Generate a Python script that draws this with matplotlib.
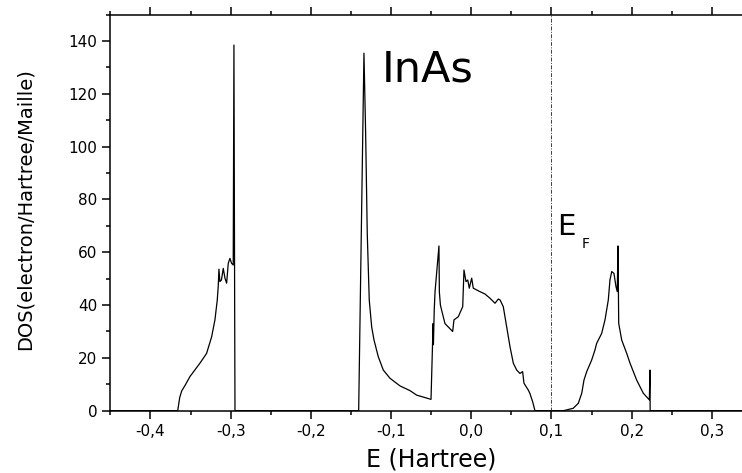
import matplotlib
matplotlib.use("Agg")
import matplotlib.pyplot as plt
from matplotlib.ticker import MultipleLocator

# density of states (E in Hartree, DOS in electron/Hartree/Maille)
energy = [
    -0.45, -0.366, -0.3635, -0.361, -0.357, -0.3508, -0.3383, -0.330, -0.3237,
    -0.3196, -0.3167, -0.3155, -0.3146, -0.3134, -0.3115, -0.3092, -0.3071,
    -0.305, -0.303, -0.3009, -0.2988, -0.2968, -0.2959, -0.2950, -0.2946,
    -0.1404, -0.1338, -0.1317, -0.1297, -0.1272, -0.1242, -0.1213, -0.116,
    -0.1097, -0.1014, -0.0889, -0.0764, -0.0681, -0.0502, -0.0476, -0.0472,
    -0.0462, -0.0452, -0.0403, -0.0398, -0.0385, -0.0369, -0.0328, -0.0232,
    -0.0216, -0.0162, -0.0107, -0.0091, -0.0066, -0.0044, -0.0025, 0.0005,
    0.0025, 0.0108, 0.0171, 0.0233, 0.0296, 0.0337, 0.036, 0.0399, 0.0441,
    0.0483, 0.0524, 0.0566, 0.0607, 0.064, 0.0657, 0.0711, 0.073, 0.0765,
    0.0794, 0.1147, 0.127, 0.1334, 0.1377, 0.1405, 0.1439, 0.1501, 0.1542,
    0.1563, 0.1626, 0.1667, 0.1708, 0.1729, 0.1751, 0.1779, 0.1804, 0.182,
    0.1829, 0.1838, 0.1875, 0.1938, 0.1979, 0.2062, 0.2145, 0.222, 0.2228,
    0.2230, 0.2232, 0.35,
]
dos = [
    0, 0, 5.0, 7.5, 9.5, 12.9, 18.0, 21.7, 28.0,
    34.4, 41.9, 47.0, 53.6, 48.9, 49.5, 53.9, 50.2,
    48.3, 55.8, 57.7, 55.8, 55.2, 138.5, 40.0, 0,
    0, 135.4, 105.0, 67.2, 41.9, 31.8, 26.8, 20.5,
    15.4, 12.3, 9.4, 7.6, 5.9, 4.3, 33.0, 25.0,
    38.0, 45.0, 62.4, 45.0, 40.0, 38.0, 33.0, 30.0,
    34.4, 35.6, 39.4, 53.3, 48.9, 49.5, 46.4, 50.2,
    46.4, 45.1, 44.2, 42.6, 40.7, 42.3, 41.9, 39.4, 31.8,
    24.2, 18.0, 15.4, 14.1, 14.8, 10.4, 7.8, 6.6, 3.4,
    0, 0, 0.9, 2.8, 6.6, 11.6, 14.8, 19.2, 23.0,
    25.5, 29.3, 34.4, 41.9, 49.5, 52.7, 52.0, 47.0, 45.1,
    62.4, 33.1, 26.8, 21.7, 18.0, 11.6, 6.6, 4.1, 15.4,
    0, 0, 0,
]

fermi_energy = 0.1
xtick_values = [-0.4, -0.3, -0.2, -0.1, 0.0, 0.1, 0.2, 0.3]
xtick_labels = ["-0,4", "-0,3", "-0,2", "-0,1", "0,0", "0,1", "0,2", "0,3"]
ytick_values = [0, 20, 40, 60, 80, 100, 120, 140]

fig = plt.figure(figsize=(7.42, 4.73), dpi=100)
# the reference is cropped on the right, so the axes run past the figure edge
ax = fig.add_axes([0.1487, 0.1317, 0.8648, 0.8373])

ax.plot(energy, dos, color="black", lw=0.9)
ax.axvline(fermi_energy, color="0.25", lw=0.7, ls=(0, (4, 1.5, 1, 1.5)))

ax.set_xlim(-0.45, 0.35)
ax.set_ylim(0, 150)
ax.set_xticks(xtick_values)
ax.set_xticklabels(xtick_labels)
ax.set_yticks(ytick_values)
ax.xaxis.set_minor_locator(MultipleLocator(0.05))
ax.yaxis.set_minor_locator(MultipleLocator(10))

ax.tick_params(which="both", direction="out", top=True, right=False,
               width=1.1, labelsize=11, colors="black")
ax.tick_params(which="major", length=5.5, pad=4)
ax.tick_params(which="minor", length=2.6)
for s in ax.spines.values():
    s.set_linewidth(1.1)

ax.set_xlabel("E (Hartree)", fontsize=17, labelpad=6)
ax.set_ylabel("DOS(electron/Hartree/Maille)", fontsize=14, labelpad=22)
ax.yaxis.set_label_coords(-0.118, 0.51)

ax.text(-0.1117, 124.6, "InAs", fontsize=31, ha="left", va="baseline")
ax.text(0.1065, 66.6, "E", fontsize=21, ha="left", va="baseline")
ax.text(0.138, 61.5, "F", fontsize=10, ha="left", va="baseline")

fig.savefig("out.png", dpi=100)
